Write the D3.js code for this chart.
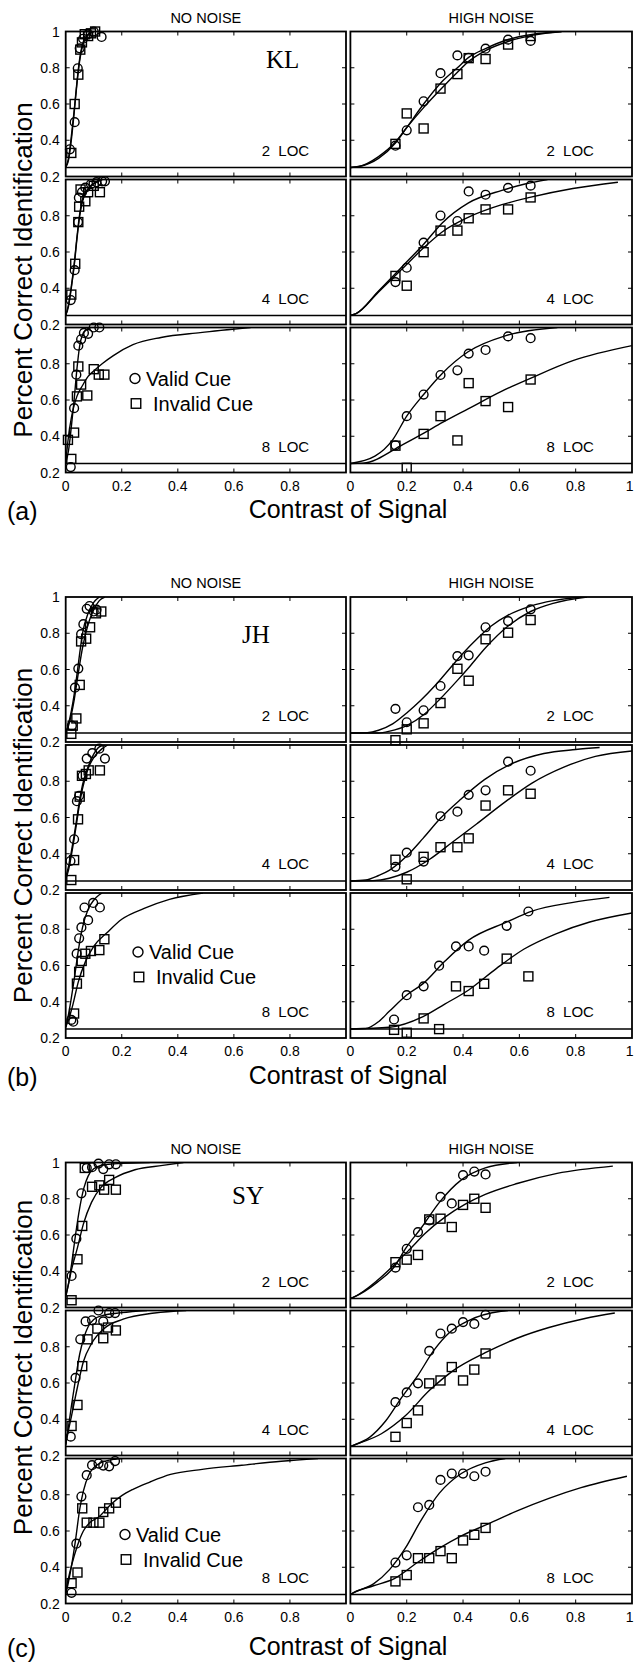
<!DOCTYPE html>
<html><head><meta charset="utf-8">
<script src="https://cdn.jsdelivr.net/npm/d3@7"></script>
<style>html,body{margin:0;padding:0;background:#fff;}svg{display:block;}</style>
</head><body>
<svg id="chart" width="634" height="1662"></svg>
<script>
// ---------- labels ----------
const subjectNames = ["KL", "JH", "SY"];
const panelLetters = ["(a)", "(b)", "(c)"];
const columnTitles = ["NO NOISE", "HIGH NOISE"];
const locLabels = ["2\u00a0\u00a0LOC", "4\u00a0\u00a0LOC", "8\u00a0\u00a0LOC"];
const legendLabels = ["Valid Cue", "Invalid Cue"];
const yTitle = "Percent Correct Identification";
const xTitle = "Contrast of Signal";
const xTickValues = [0, 0.2, 0.4, 0.6, 0.8, 1];
const yTickValues = [0.2, 0.4, 0.6, 0.8, 1];
const chanceLevel = 0.25;

// ---------- KL ----------
const klNoValid = [
 [[0.015,0.35],[0.032,0.5],[0.043,0.797],[0.05,0.907],[0.062,0.96],[0.08,0.985],[0.1,1.0],[0.128,0.97]],
 [[0.018,0.335],[0.032,0.5],[0.044,0.765],[0.047,0.9],[0.058,0.93],[0.07,0.955],[0.09,0.975],[0.11,0.985],[0.13,0.99],[0.14,0.99]],
 [[0.018,0.23],[0.03,0.555],[0.038,0.74],[0.045,0.9],[0.055,0.935],[0.065,0.97],[0.08,0.965],[0.1,1.0],[0.12,1.0]]
];
const klNoInvalid = [
 [[0.02,0.33],[0.032,0.6],[0.045,0.762],[0.052,0.9],[0.058,0.94],[0.068,0.985],[0.08,0.975],[0.09,0.99],[0.105,1.0]],
 [[0.02,0.365],[0.034,0.535],[0.045,0.765],[0.048,0.85],[0.053,0.945],[0.07,0.88],[0.08,0.93],[0.1,0.965],[0.122,0.93]],
 [[0.008,0.38],[0.02,0.275],[0.03,0.42],[0.04,0.62],[0.045,0.785],[0.055,0.685],[0.077,0.625],[0.1,0.77],[0.118,0.74],[0.138,0.74]]
];
const klNoValidFit = [
 [[0,0.25],[0.01,0.3],[0.02,0.42],[0.03,0.56],[0.04,0.72],[0.05,0.85],[0.06,0.93],[0.08,0.985],[0.1,1.0]],
 [[0,0.25],[0.01,0.31],[0.02,0.41],[0.03,0.53],[0.04,0.68],[0.05,0.81],[0.06,0.89],[0.08,0.95],[0.1,0.98],[0.13,1.0]],
 [[0,0.25],[0.01,0.32],[0.02,0.45],[0.03,0.6],[0.04,0.77],[0.05,0.9],[0.06,0.96],[0.075,0.99],[0.09,1.0]]
];
const klNoInvalidFit = [
 [[0,0.25],[0.01,0.29],[0.02,0.4],[0.03,0.55],[0.04,0.71],[0.05,0.84],[0.06,0.92],[0.08,0.98],[0.1,1.0]],
 [[0,0.25],[0.01,0.3],[0.02,0.4],[0.03,0.52],[0.04,0.67],[0.05,0.8],[0.06,0.88],[0.08,0.945],[0.1,0.975],[0.13,1.0]],
 [[0,0.25],[0.005,0.33],[0.01,0.4],[0.02,0.5],[0.03,0.57],[0.04,0.62],[0.06,0.68],[0.08,0.73],[0.1,0.76],[0.13,0.8],[0.17,0.845],[0.24,0.905],[0.34,0.945],[0.48,0.972],[0.66,1.0]]
];
const klHighValid = [
 [[0.16,0.37],[0.2,0.455],[0.26,0.615],[0.32,0.77],[0.38,0.868],[0.42,0.855],[0.48,0.905],[0.56,0.955],[0.64,0.948]],
 [[0.16,0.434],[0.2,0.513],[0.26,0.652],[0.32,0.801],[0.38,0.771],[0.42,0.934],[0.48,0.916],[0.56,0.954],[0.64,0.966]],
 [[0.16,0.35],[0.2,0.511],[0.26,0.63],[0.32,0.738],[0.38,0.764],[0.42,0.856],[0.48,0.876],[0.56,0.951],[0.64,0.941]]
];
const klHighInvalid = [
 [[0.16,0.38],[0.2,0.548],[0.26,0.465],[0.32,0.685],[0.38,0.765],[0.42,0.853],[0.48,0.848],[0.56,0.928],[0.64,0.975]],
 [[0.16,0.468],[0.2,0.414],[0.26,0.599],[0.32,0.718],[0.38,0.718],[0.42,0.786],[0.48,0.835],[0.56,0.835],[0.64,0.901]],
 [[0.16,0.348],[0.2,0.226],[0.26,0.413],[0.32,0.511],[0.38,0.377],[0.42,0.693],[0.48,0.594],[0.56,0.561],[0.64,0.713]]
];
const klHighValidFit = [
 [[0,0.25],[0.03,0.255],[0.1,0.3],[0.16,0.385],[0.2,0.47],[0.26,0.6],[0.32,0.715],[0.38,0.8],[0.42,0.857],[0.48,0.906],[0.56,0.956],[0.65,0.985],[0.75,1.0]],
 [[0,0.25],[0.02,0.26],[0.1,0.385],[0.186,0.523],[0.26,0.643],[0.327,0.762],[0.418,0.87],[0.538,0.94],[0.62,0.975],[0.7,1.0]],
 [[0,0.25],[0.087,0.29],[0.15,0.38],[0.2,0.511],[0.26,0.63],[0.327,0.748],[0.418,0.866],[0.552,0.955],[0.735,1.0]]
];
const klHighInvalidFit = [
 [[0,0.25],[0.03,0.255],[0.1,0.31],[0.16,0.39],[0.2,0.47],[0.26,0.58],[0.32,0.68],[0.38,0.775],[0.42,0.835],[0.48,0.895],[0.56,0.945],[0.65,0.98],[0.75,1.0]],
 [[0,0.25],[0.02,0.26],[0.1,0.38],[0.186,0.51],[0.26,0.623],[0.327,0.712],[0.418,0.791],[0.538,0.861],[0.637,0.901],[0.79,0.95],[0.95,0.985]],
 [[0,0.25],[0.045,0.252],[0.186,0.354],[0.256,0.413],[0.327,0.476],[0.418,0.551],[0.538,0.649],[0.637,0.718],[0.79,0.817],[1.0,0.9]]
];

// ---------- JH ----------
const jhNoValid = [
 [[0.022,0.29],[0.033,0.5],[0.045,0.605],[0.055,0.795],[0.063,0.85],[0.075,0.935],[0.085,0.95],[0.1,0.92],[0.11,0.93]],
 [[0.017,0.36],[0.03,0.48],[0.04,0.69],[0.048,0.72],[0.06,0.83],[0.075,0.925],[0.095,0.955],[0.12,0.98],[0.14,0.925]],
 [[0.02,0.3],[0.027,0.29],[0.039,0.665],[0.048,0.75],[0.056,0.81],[0.067,0.92],[0.08,0.85],[0.098,0.945],[0.122,0.92]]
];
const jhNoInvalid = [
 [[0.02,0.245],[0.025,0.29],[0.038,0.33],[0.05,0.515],[0.055,0.755],[0.073,0.77],[0.087,0.833],[0.108,0.91],[0.127,0.92]],
 [[0.02,0.255],[0.03,0.365],[0.044,0.59],[0.05,0.715],[0.058,0.83],[0.072,0.84],[0.082,0.86],[0.122,0.86]],
 [[0.03,0.335],[0.04,0.5],[0.048,0.565],[0.057,0.625],[0.07,0.665],[0.09,0.68],[0.12,0.685],[0.138,0.745]]
];
const jhNoValidFit = [
 [[0,0.25],[0.01,0.3],[0.02,0.37],[0.03,0.46],[0.04,0.57],[0.05,0.69],[0.06,0.8],[0.08,0.91],[0.1,0.97],[0.12,1.0]],
 [[0,0.27],[0.01,0.33],[0.02,0.41],[0.03,0.5],[0.04,0.6],[0.05,0.7],[0.06,0.78],[0.08,0.88],[0.1,0.95],[0.12,0.99],[0.14,1.0]],
 [[0,0.26],[0.01,0.33],[0.02,0.42],[0.03,0.52],[0.04,0.63],[0.05,0.73],[0.06,0.81],[0.08,0.91],[0.1,0.96],[0.12,0.99],[0.13,1.0]]
];
const jhNoInvalidFit = [
 [[0,0.25],[0.01,0.29],[0.02,0.35],[0.03,0.43],[0.04,0.53],[0.05,0.63],[0.06,0.72],[0.08,0.85],[0.1,0.93],[0.12,0.98],[0.14,1.0]],
 [[0,0.26],[0.01,0.31],[0.02,0.39],[0.03,0.48],[0.04,0.58],[0.05,0.68],[0.06,0.76],[0.08,0.87],[0.1,0.93],[0.13,0.98],[0.15,1.0]],
 [[0,0.26],[0.01,0.3],[0.025,0.38],[0.045,0.51],[0.07,0.62],[0.1,0.705],[0.15,0.785],[0.2,0.855],[0.28,0.915],[0.37,0.965],[0.49,1.0]]
];
const jhHighValid = [
 [[0.16,0.383],[0.2,0.309],[0.26,0.375],[0.32,0.509],[0.38,0.674],[0.42,0.678],[0.48,0.833],[0.56,0.867],[0.64,0.932]],
 [[0.16,0.328],[0.2,0.406],[0.26,0.357],[0.32,0.607],[0.38,0.632],[0.42,0.725],[0.48,0.75],[0.56,0.908],[0.64,0.858]],
 [[0.155,0.302],[0.2,0.436],[0.26,0.485],[0.315,0.599],[0.375,0.705],[0.42,0.705],[0.475,0.682],[0.555,0.819],[0.632,0.898]]
];
const jhHighInvalid = [
 [[0.16,0.21],[0.2,0.27],[0.26,0.303],[0.32,0.415],[0.38,0.604],[0.42,0.538],[0.48,0.767],[0.56,0.803],[0.64,0.873]],
 [[0.16,0.367],[0.2,0.259],[0.26,0.383],[0.32,0.436],[0.38,0.436],[0.42,0.485],[0.48,0.666],[0.56,0.75],[0.64,0.731]],
 [[0.155,0.245],[0.2,0.229],[0.26,0.308],[0.315,0.249],[0.375,0.485],[0.42,0.459],[0.475,0.499],[0.555,0.638],[0.632,0.54]]
];
const jhHighValidFit = [
 [[0,0.25],[0.06,0.252],[0.1,0.265],[0.15,0.3],[0.2,0.36],[0.25,0.43],[0.3,0.51],[0.35,0.6],[0.4,0.69],[0.45,0.77],[0.5,0.84],[0.56,0.9],[0.64,0.95],[0.72,0.98],[0.82,1.0]],
 [[0,0.25],[0.054,0.255],[0.1,0.28],[0.138,0.308],[0.2,0.387],[0.258,0.485],[0.318,0.593],[0.392,0.701],[0.476,0.809],[0.575,0.898],[0.687,0.953],[0.8,0.975],[0.885,0.986]],
 [[0,0.25],[0.054,0.252],[0.1,0.29],[0.138,0.347],[0.199,0.436],[0.258,0.5],[0.335,0.623],[0.42,0.74],[0.554,0.839],[0.645,0.9],[0.786,0.947],[0.92,0.976]]
];
const jhHighInvalidFit = [
 [[0,0.25],[0.1,0.25],[0.14,0.26],[0.2,0.29],[0.26,0.35],[0.32,0.44],[0.38,0.54],[0.42,0.61],[0.48,0.72],[0.56,0.84],[0.64,0.92],[0.72,0.965],[0.84,1.0]],
 [[0,0.25],[0.08,0.252],[0.138,0.265],[0.2,0.298],[0.279,0.367],[0.363,0.465],[0.448,0.564],[0.546,0.682],[0.645,0.79],[0.758,0.878],[0.87,0.937],[1.0,0.967]],
 [[0,0.25],[0.138,0.259],[0.258,0.318],[0.335,0.387],[0.42,0.465],[0.518,0.583],[0.617,0.691],[0.73,0.775],[0.85,0.84],[1.0,0.89]]
];

// ---------- SY ----------
const syNoValid = [
 [[0.021,0.374],[0.038,0.58],[0.056,0.83],[0.075,0.97],[0.094,0.974],[0.117,0.994],[0.134,0.964],[0.155,0.99],[0.179,0.99]],
 [[0.018,0.304],[0.035,0.628],[0.052,0.841],[0.071,0.94],[0.094,0.946],[0.117,1.0],[0.134,0.94],[0.155,0.986],[0.176,0.986]],
 [[0.021,0.259],[0.038,0.53],[0.056,0.79],[0.075,0.908],[0.094,0.963],[0.117,0.972],[0.134,0.961],[0.155,0.957],[0.176,0.986]]
];
const syNoInvalid = [
 [[0.021,0.24],[0.042,0.466],[0.059,0.65],[0.068,0.97],[0.094,0.866],[0.12,0.874],[0.137,0.85],[0.155,0.904],[0.179,0.85]],
 [[0.021,0.363],[0.042,0.479],[0.059,0.693],[0.078,0.841],[0.113,0.9],[0.134,0.847],[0.151,0.906],[0.179,0.89]],
 [[0.021,0.312],[0.042,0.371],[0.059,0.725],[0.075,0.646],[0.099,0.646],[0.12,0.646],[0.134,0.705],[0.155,0.725],[0.179,0.756]]
];
const syNoValidFit = [
 [[0,0.26],[0.01,0.33],[0.021,0.44],[0.035,0.6],[0.05,0.75],[0.065,0.86],[0.08,0.925],[0.1,0.965],[0.13,0.985],[0.2,0.995],[0.3,1.0]],
 [[0,0.26],[0.01,0.36],[0.021,0.48],[0.035,0.62],[0.05,0.76],[0.065,0.85],[0.08,0.91],[0.1,0.95],[0.13,0.972],[0.2,0.988],[0.29,1.0]],
 [[0,0.25],[0.01,0.32],[0.021,0.41],[0.035,0.55],[0.05,0.72],[0.063,0.82],[0.085,0.917],[0.12,0.972],[0.176,0.996],[0.2,1.0]]
];
const syNoInvalidFit = [
 [[0,0.26],[0.01,0.33],[0.021,0.41],[0.042,0.53],[0.063,0.66],[0.092,0.78],[0.127,0.864],[0.176,0.916],[0.247,0.96],[0.346,0.984],[0.42,1.0]],
 [[0,0.26],[0.01,0.34],[0.021,0.42],[0.042,0.578],[0.063,0.717],[0.092,0.817],[0.134,0.897],[0.205,0.952],[0.317,0.986],[0.43,1.0]],
 [[0,0.26],[0.01,0.34],[0.021,0.41],[0.042,0.52],[0.063,0.6],[0.085,0.645],[0.12,0.68],[0.16,0.745],[0.2,0.795],[0.24,0.83],[0.3,0.87],[0.374,0.912],[0.487,0.94],[0.628,0.963],[0.769,0.985],[0.9,1.0]]
];
const syHighValid = [
 [[0.16,0.42],[0.2,0.524],[0.24,0.616],[0.28,0.68],[0.32,0.81],[0.36,0.774],[0.4,0.93],[0.44,0.95],[0.48,0.934]],
 [[0.16,0.494],[0.2,0.548],[0.24,0.598],[0.28,0.777],[0.32,0.873],[0.36,0.9],[0.4,0.936],[0.44,0.926],[0.48,0.976]],
 [[0.16,0.426],[0.2,0.466],[0.24,0.731],[0.28,0.744],[0.32,0.882],[0.36,0.917],[0.4,0.917],[0.44,0.902],[0.48,0.927]]
];
const syHighInvalid = [
 [[0.16,0.45],[0.2,0.464],[0.24,0.49],[0.28,0.686],[0.32,0.69],[0.36,0.644],[0.4,0.766],[0.44,0.8],[0.48,0.75]],
 [[0.16,0.303],[0.2,0.379],[0.24,0.449],[0.28,0.598],[0.32,0.614],[0.36,0.688],[0.4,0.614],[0.44,0.674],[0.48,0.763]],
 [[0.16,0.322],[0.2,0.357],[0.24,0.45],[0.28,0.45],[0.32,0.489],[0.36,0.45],[0.4,0.548],[0.44,0.579],[0.48,0.617]]
];
const syHighValidFit = [
 [[0,0.25],[0.01,0.256],[0.096,0.34],[0.156,0.425],[0.198,0.53],[0.252,0.64],[0.316,0.78],[0.394,0.904],[0.479,0.97],[0.592,1.0]],
 [[0,0.25],[0.01,0.256],[0.068,0.3],[0.125,0.39],[0.181,0.518],[0.238,0.638],[0.295,0.777],[0.351,0.877],[0.422,0.946],[0.535,0.996],[0.56,1.0]],
 [[0,0.25],[0.01,0.259],[0.082,0.308],[0.139,0.387],[0.195,0.505],[0.252,0.662],[0.316,0.809],[0.394,0.917],[0.479,0.976],[0.55,1.0]]
];
const syHighInvalidFit = [
 [[0,0.25],[0.01,0.256],[0.096,0.35],[0.156,0.436],[0.21,0.52],[0.266,0.61],[0.337,0.7],[0.408,0.77],[0.479,0.824],[0.592,0.884],[0.734,0.94],[0.932,0.98]],
 [[0,0.25],[0.01,0.256],[0.11,0.32],[0.195,0.419],[0.28,0.558],[0.365,0.668],[0.479,0.767],[0.592,0.847],[0.705,0.906],[0.833,0.956],[0.939,0.986]],
 [[0,0.25],[0.01,0.259],[0.082,0.298],[0.156,0.337],[0.238,0.426],[0.316,0.505],[0.394,0.573],[0.479,0.632],[0.592,0.711],[0.705,0.78],[0.819,0.839],[0.982,0.902]]
];

// ---------- assemble (references to the arrays above) ----------
const subjectData = [
 {no:{valid:klNoValid, invalid:klNoInvalid, validFit:klNoValidFit, invalidFit:klNoInvalidFit},
  high:{valid:klHighValid, invalid:klHighInvalid, validFit:klHighValidFit, invalidFit:klHighInvalidFit}},
 {no:{valid:jhNoValid, invalid:jhNoInvalid, validFit:jhNoValidFit, invalidFit:jhNoInvalidFit},
  high:{valid:jhHighValid, invalid:jhHighInvalid, validFit:jhHighValidFit, invalidFit:jhHighInvalidFit}},
 {no:{valid:syNoValid, invalid:syNoInvalid, validFit:syNoValidFit, invalidFit:syNoInvalidFit},
  high:{valid:syHighValid, invalid:syHighInvalid, validFit:syHighValidFit, invalidFit:syHighInvalidFit}}
];

// ---------- layout ----------
const W = 634, H = 1662;
const groupTops = [31.5, 597, 1162.5];
const rowH = 145, rowStep = 148;
const colX = [65.7, 350.4], colW = [280.3, 281.6];
const groupLayout = [
 {titleC:238.5, bottomText:45, subjX:266, subjY:36.5, legX:135, legY:51},
 {titleC:238.5, bottomText:45.5, subjX:242, subjY:45.5, legX:138, legY:59},
 {titleC:205, bottomText:51, subjX:232, subjY:41, legX:125, legY:76}
];
const sans = "'Liberation Sans', Arial, Helvetica, sans-serif";
const serif = "'Liberation Serif', 'Times New Roman', serif";

const svg = d3.select("#chart");
svg.append("rect").attr("width", W).attr("height", H).attr("fill", "#fff");

function drawMarkers(g, pts, x, y, kind) {
  if (kind === "circle") {
    g.selectAll(null).data(pts).join("circle")
      .attr("cx", d => x(d[0])).attr("cy", d => y(d[1])).attr("r", 4.4)
      .attr("fill", "none").attr("stroke", "#000").attr("stroke-width", 1.4);
  } else {
    const s = 9;
    g.selectAll(null).data(pts).join("rect")
      .attr("x", d => x(d[0]) - s/2).attr("y", d => y(d[1]) - s/2)
      .attr("width", s).attr("height", s)
      .attr("fill", "none").attr("stroke", "#000").attr("stroke-width", 1.4);
  }
}

let clipId = 0;
subjectData.forEach((subj, gi) => {
  const top = groupTops[gi];
  const L = groupLayout[gi];
  const grp = svg.append("g");

  columnTitles.forEach((t, ci) => {
    grp.append("text").attr("x", colX[ci] + colW[ci] / 2).attr("y", top - 9)
      .attr("text-anchor", "middle").attr("font-family", sans).attr("font-size", 14.5)
      .text(t);
  });

  ["no", "high"].forEach((cond, ci) => {
    const set = subj[cond];
    for (let r = 0; r < 3; r++) {
      const pTop = top + r * rowStep;
      const x = d3.scaleLinear().domain([0, 1]).range([colX[ci], colX[ci] + colW[ci]]);
      const y = d3.scaleLinear().domain([0.2, 1]).range([pTop + rowH, pTop]);
      const pg = grp.append("g");
      const id = "clip" + (clipId++);
      pg.append("clipPath").attr("id", id).append("rect")
        .attr("x", x(0)).attr("y", y(1)).attr("width", x(1) - x(0)).attr("height", y(0.2) - y(1));

      pg.append("line").attr("x1", x(0)).attr("x2", x(1))
        .attr("y1", y(chanceLevel)).attr("y2", y(chanceLevel))
        .attr("stroke", "#000").attr("stroke-width", 1.5);

      const line = d3.line().x(d => x(d[0])).y(d => y(d[1])).curve(d3.curveMonotoneX);
      [set.validFit[r], set.invalidFit[r]].forEach(c => {
        pg.append("path").attr("d", line(c)).attr("fill", "none")
          .attr("stroke", "#000").attr("stroke-width", 1.4)
          .attr("clip-path", `url(#${id})`);
      });

      pg.append("rect").attr("x", x(0)).attr("y", y(1))
        .attr("width", x(1) - x(0)).attr("height", y(0.2) - y(1))
        .attr("fill", "none").attr("stroke", "#000").attr("stroke-width", 1.8);

      const tl = 4;
      xTickValues.slice(1, -1).forEach(v => {
        pg.append("line").attr("x1", x(v)).attr("x2", x(v)).attr("y1", y(1)).attr("y2", y(1) + tl)
          .attr("stroke", "#000").attr("stroke-width", 1);
        pg.append("line").attr("x1", x(v)).attr("x2", x(v)).attr("y1", y(0.2)).attr("y2", y(0.2) - tl)
          .attr("stroke", "#000").attr("stroke-width", 1);
      });
      yTickValues.slice(1, -1).forEach(v => {
        pg.append("line").attr("x1", x(0)).attr("x2", x(0) + tl).attr("y1", y(v)).attr("y2", y(v))
          .attr("stroke", "#000").attr("stroke-width", 1);
        pg.append("line").attr("x1", x(1)).attr("x2", x(1) - tl).attr("y1", y(v)).attr("y2", y(v))
          .attr("stroke", "#000").attr("stroke-width", 1);
      });

      drawMarkers(pg, set.valid[r], x, y, "circle");
      drawMarkers(pg, set.invalid[r], x, y, "square");

      pg.append("text").attr("x", x(0) + 196).attr("y", y(0.2) - 21)
        .attr("font-family", sans).attr("font-size", 15).text(locLabels[r]);

      if (ci === 0) {
        const vals = r === 0 ? yTickValues.slice().reverse() : yTickValues.slice(0, -1).reverse();
        vals.forEach(v => {
          pg.append("text").attr("x", x(0) - 6).attr("y", y(v) + 5)
            .attr("text-anchor", "end").attr("font-family", sans).attr("font-size", 14)
            .text(d3.format("")(v));
        });
      }
      if (r === 2) {
        const vals = ci === 0 ? xTickValues.slice(0, -1) : xTickValues;
        vals.forEach(v => {
          const edge = x(v) > W - 6;
          pg.append("text").attr("x", edge ? W - 0.5 : x(v)).attr("y", y(0.2) + 18)
            .attr("text-anchor", edge ? "end" : "middle").attr("font-family", sans).attr("font-size", 14)
            .text(d3.format("")(v));
        });
      }
      if (ci === 0 && r === 0) {
        pg.append("text").attr("x", L.subjX).attr("y", pTop + L.subjY)
          .attr("font-family", serif).attr("font-size", 25).text(subjectNames[gi]);
      }
      if (ci === 0 && r === 2) {
        const lx = L.legX, ly = pTop + L.legY;
        pg.append("circle").attr("cx", lx).attr("cy", ly).attr("r", 5)
          .attr("fill", "none").attr("stroke", "#000").attr("stroke-width", 1.4);
        pg.append("text").attr("x", lx + 11).attr("y", ly + 7)
          .attr("font-family", sans).attr("font-size", 20).text(legendLabels[0]);
        pg.append("rect").attr("x", lx + 1 - 4.75).attr("y", ly + 25 - 4.75).attr("width", 9.5).attr("height", 9.5)
          .attr("fill", "none").attr("stroke", "#000").attr("stroke-width", 1.4);
        pg.append("text").attr("x", lx + 18).attr("y", ly + 32)
          .attr("font-family", sans).attr("font-size", 20).text(legendLabels[1]);
      }
    }
  });

  grp.append("text").attr("transform", `translate(32,${top + L.titleC}) rotate(-90)`)
    .attr("text-anchor", "middle").attr("font-family", sans).attr("font-size", 26).text(yTitle);
  const bottom = top + 2 * rowStep + rowH;
  grp.append("text").attr("x", 348).attr("y", bottom + L.bottomText)
    .attr("text-anchor", "middle").attr("font-family", sans).attr("font-size", 25).text(xTitle);
  grp.append("text").attr("x", 7).attr("y", bottom + L.bottomText + 2)
    .attr("font-family", sans).attr("font-size", 25).text(panelLetters[gi]);
});
</script>
</body></html>
